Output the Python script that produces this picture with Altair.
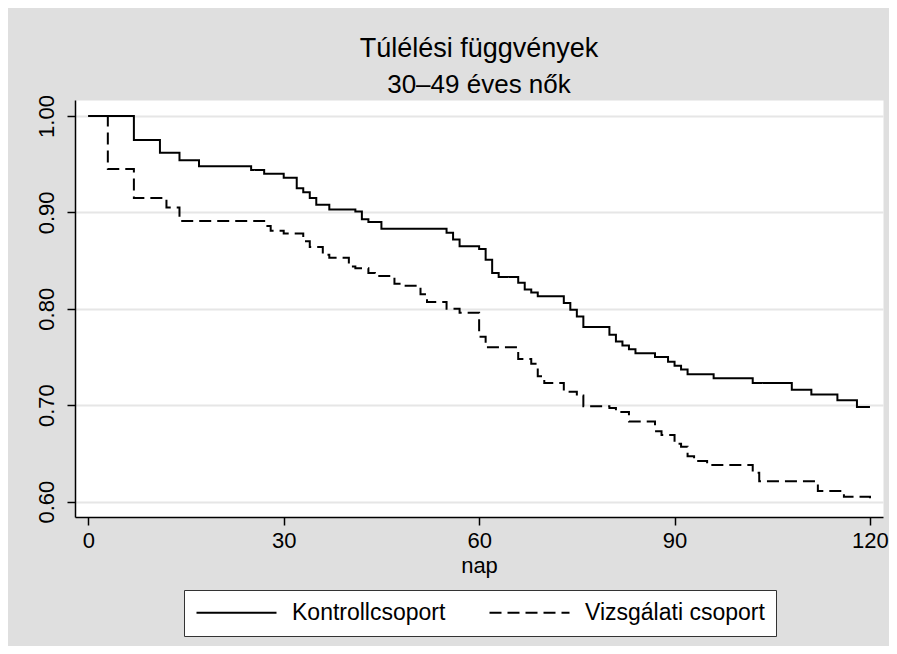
import altair as alt
import pandas as pd

# Kaplan-Meier step values
ctrl_days = [0, 7, 11, 14, 17, 25, 27, 30, 32, 33, 34, 35, 37, 41, 42, 43, 45, 55, 56, 57,
             60, 61, 62, 63, 66, 67, 68, 69, 73, 74, 75, 76, 80, 81, 82, 83, 84, 87, 89, 90,
             91, 92, 96, 102, 108, 111, 115, 118, 120]
ctrl_surv = [1.000, 0.975, 0.962, 0.954, 0.948, 0.944, 0.940, 0.936, 0.925, 0.921,
             0.915, 0.908, 0.903, 0.901, 0.893, 0.890, 0.883, 0.879, 0.872, 0.865,
             0.862, 0.851, 0.837, 0.833, 0.827, 0.820, 0.817, 0.813, 0.806, 0.799,
             0.792, 0.781, 0.773, 0.766, 0.762, 0.758, 0.754, 0.750, 0.745, 0.741,
             0.737, 0.732, 0.728, 0.723, 0.716, 0.711, 0.705, 0.698, 0.698]

vizs_days = [0, 3, 7, 12, 14, 27, 28, 30, 33, 34, 36, 37, 40, 41, 43, 44, 47, 48, 51, 52,
             55, 57, 60, 61, 66, 68, 69, 70, 73, 75, 76, 80, 81, 83, 87, 88, 90, 91, 92, 93,
             95, 102, 103, 112, 116, 120]
vizs_surv = [1.000, 0.945, 0.915, 0.905, 0.891, 0.886, 0.881, 0.878, 0.870, 0.864,
             0.856, 0.853, 0.844, 0.842, 0.837, 0.834, 0.826, 0.824, 0.815, 0.807,
             0.800, 0.796, 0.771, 0.760, 0.748, 0.743, 0.730, 0.723, 0.714, 0.710,
             0.699, 0.697, 0.693, 0.683, 0.673, 0.669, 0.660, 0.657, 0.647, 0.642,
             0.638, 0.630, 0.621, 0.611, 0.605, 0.600]

groups = ["Kontrollcsoport", "Vizsgálati csoport"]
x_ticks = [0, 30, 60, 90, 120]
y_ticks = [0.6, 0.7, 0.8, 0.9, 1.0]

rows = [{"nap": d, "S": s, "csoport": groups[0]} for d, s in zip(ctrl_days, ctrl_surv)]
rows += [{"nap": d, "S": s, "csoport": groups[1]} for d, s in zip(vizs_days, vizs_surv)]
df = pd.DataFrame(rows)

FONT = "Liberation Sans"

chart = alt.Chart(df).mark_line(
    interpolate="step-after", strokeWidth=2, color="black"
).encode(
    x=alt.X("nap:Q",
            scale=alt.Scale(domain=[-2.04, 122], nice=False, zero=False),
            axis=alt.Axis(values=x_ticks, grid=False, title="nap",
                          domainColor="black", domainWidth=1.5,
                          tickColor="black", tickWidth=1.5, tickSize=8,
                          labelFontSize=22, labelColor="black", labelFont=FONT,
                          labelPadding=5, labelFlush=False, labelOverlap=False,
                          titleFontSize=22, titleFontWeight="normal", titleColor="black",
                          titleFont=FONT, titlePadding=4)),
    y=alt.Y("S:Q",
            scale=alt.Scale(domain=[0.584, 1.0166], nice=False, zero=False),
            axis=alt.Axis(values=y_ticks, format=".2f", title=None,
                          grid=True, gridColor="#e6e6e6", gridWidth=2,
                          domainColor="black", domainWidth=1.5,
                          tickColor="black", tickWidth=1.5, tickSize=8,
                          labelAngle=270, labelAlign="center", labelBaseline="bottom",
                          labelFontSize=22, labelColor="black", labelFont=FONT,
                          labelPadding=9, labelFlush=False, labelOverlap=False)),
    strokeDash=alt.StrokeDash("csoport:N",
                              scale=alt.Scale(domain=groups, range=[[1, 0], [12, 6]]),
                              legend=alt.Legend(title=None, orient="none",
                                                legendX=109, legendY=490,
                                                direction="horizontal", columns=2,
                                                symbolType="M-1,0H7", symbolSize=400,
                                                symbolStrokeWidth=2, symbolStrokeColor="black",
                                                labelFontSize=23, labelColor="black",
                                                labelFont=FONT, labelOffset=74,
                                                columnPadding=39, padding=11,
                                                fillColor="white", strokeColor="#333333",
                                                labelLimit=400)),
).properties(
    width=808,
    height=417,
    padding={"left": 67, "top": 92, "right": 6, "bottom": 129},
    autosize=alt.AutoSizeParams(type="none"),
    title=alt.TitleParams(text="Túlélési függvények", subtitle="30–49 éves nők",
                          anchor="middle", font=FONT, subtitleFont=FONT,
                          fontSize=27, subtitleFontSize=26, fontWeight="normal",
                          color="black", subtitleColor="black",
                          offset=-4, subtitlePadding=9),
).configure(
    background="#dfdfdf"
).configure_view(
    fill="white", stroke="transparent"
)

chart.save("out.html", embed_options={"renderer": "svg", "actions": False})
